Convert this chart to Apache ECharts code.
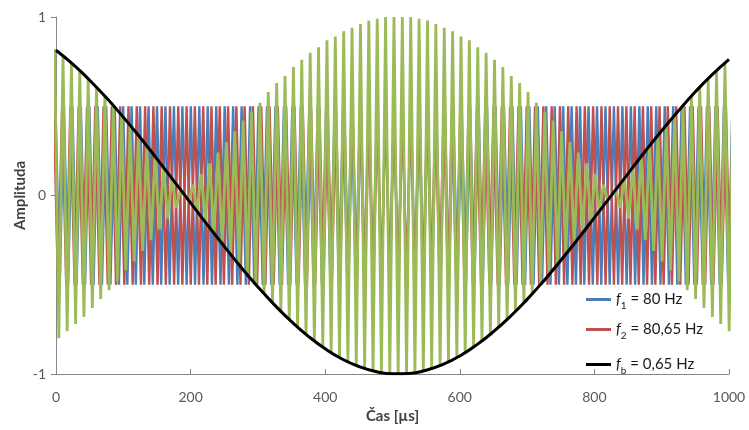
<!DOCTYPE html>
<html>
<head>
<meta charset="utf-8">
<script src="https://cdn.jsdelivr.net/npm/echarts@6/dist/echarts.min.js"></script>
<style>
    html, body { margin: 0; padding: 0; background: #fff; }
    #main { width: 749px; height: 430px; }
</style>
</head>
<body>
<div id="main"></div>
<script>
// turning points [t (µs), amplitude]
var blueTurns = [[-0.8,.5],[5.5,-.5],[11.7,.5],[18.0,-.5],[24.3,.5],[30.6,-.5],[36.9,.5],[43.2,-.5],[49.5,.5],[55.8,-.5],
    [62.0,.5],[68.3,-.5],[74.6,.5],[80.9,-.5],[87.2,.5],[93.5,-.5],[99.8,.5],[106.0,-.5],[112.3,.5],[118.6,-.5],
    [124.9,.5],[131.2,-.5],[137.5,.5],[143.8,-.5],[150.1,.5],[156.3,-.5],[162.6,.5],[168.9,-.5],[175.2,.5],[181.5,-.5],
    [187.8,.5],[194.1,-.5],[200.3,.5],[206.6,-.5],[212.9,.5],[219.2,-.5],[225.5,.5],[231.8,-.5],[238.1,.5],[244.4,-.5],
    [250.6,.5],[256.9,-.5],[263.2,.5],[269.5,-.5],[275.8,.5],[282.1,-.5],[288.4,.5],[294.7,-.5],[300.9,.5],[307.2,-.5],
    [313.5,.5],[319.8,-.5],[326.1,.5],[332.4,-.5],[338.7,.5],[344.9,-.5],[351.2,.5],[357.5,-.5],[363.8,.5],[370.1,-.5],
    [376.4,.5],[382.7,-.5],[389.0,.5],[395.2,-.5],[401.5,.5],[407.8,-.5],[414.1,.5],[420.4,-.5],[426.7,.5],[433.0,-.5],
    [439.2,.5],[445.5,-.5],[451.8,.5],[458.1,-.5],[464.4,.5],[470.7,-.5],[477.0,.5],[483.3,-.5],[489.5,.5],[495.8,-.5],
    [502.1,.5],[508.4,-.5],[514.7,.5],[521.0,-.5],[527.3,.5],[533.5,-.5],[539.8,.5],[546.1,-.5],[552.4,.5],[558.7,-.5],
    [565.0,.5],[571.3,-.5],[577.6,.5],[583.8,-.5],[590.1,.5],[596.4,-.5],[602.7,.5],[609.0,-.5],[615.3,.5],[621.6,-.5],
    [627.9,.5],[634.1,-.5],[640.4,.5],[646.7,-.5],[653.0,.5],[659.3,-.5],[665.6,.5],[671.9,-.5],[678.1,.5],[684.4,-.5],
    [690.7,.5],[697.0,-.5],[703.3,.5],[709.6,-.5],[715.9,.5],[722.2,-.5],[728.4,.5],[734.7,-.5],[741.0,.5],[747.3,-.5],
    [753.6,.5],[759.9,-.5],[766.2,.5],[772.5,-.5],[778.7,.5],[785.0,-.5],[791.3,.5],[797.6,-.5],[803.9,.5],[810.2,-.5],
    [816.5,.5],[822.7,-.5],[829.0,.5],[835.3,-.5],[841.6,.5],[847.9,-.5],[854.2,.5],[860.5,-.5],[866.8,.5],[873.0,-.5],
    [879.3,.5],[885.6,-.5],[891.9,.5],[898.2,-.5],[904.5,.5],[910.8,-.5],[917.0,.5],[923.3,-.5],[929.6,.5],[935.9,-.5],
    [942.2,.5],[948.5,-.5],[954.8,.5],[961.1,-.5],[967.3,.5],[973.6,-.5],[979.9,.5],[986.2,-.5],[992.5,.5],[998.8,-.5],
    [1005.1,.5]];

var redTurns = [[-3.3,.5],[2.9,-.5],[9.1,.5],[15.2,-.5],[21.4,.5],[27.6,-.5],[33.7,.5],[39.9,-.5],[46.1,.5],[52.2,-.5],
    [58.4,.5],[64.6,-.5],[70.7,.5],[76.9,-.5],[83.0,.5],[89.2,-.5],[95.4,.5],[101.5,-.5],[107.7,.5],[113.9,-.5],
    [120.0,.5],[126.2,-.5],[132.4,.5],[138.5,-.5],[144.7,.5],[150.9,-.5],[157.0,.5],[163.2,-.5],[169.4,.5],[175.5,-.5],
    [181.7,.5],[187.8,-.5],[194.0,.5],[200.2,-.5],[206.3,.5],[212.5,-.5],[218.7,.5],[224.8,-.5],[231.0,.5],[237.2,-.5],
    [243.3,.5],[249.5,-.5],[255.7,.5],[261.8,-.5],[268.0,.5],[274.1,-.5],[280.3,.5],[286.5,-.5],[292.6,.5],[298.8,-.5],
    [305.0,.5],[311.1,-.5],[317.3,.5],[323.5,-.5],[329.6,.5],[335.8,-.5],[342.0,.5],[348.1,-.5],[354.3,.5],[360.5,-.5],
    [366.6,.5],[372.8,-.5],[378.9,.5],[385.1,-.5],[391.3,.5],[397.4,-.5],[403.6,.5],[409.8,-.5],[415.9,.5],[422.1,-.5],
    [428.3,.5],[434.4,-.5],[440.6,.5],[446.8,-.5],[452.9,.5],[459.1,-.5],[465.2,.5],[471.4,-.5],[477.6,.5],[483.7,-.5],
    [489.9,.5],[496.1,-.5],[502.2,.5],[508.4,-.5],[514.6,.5],[520.7,-.5],[526.9,.5],[533.1,-.5],[539.2,.5],[545.4,-.5],
    [551.6,.5],[557.7,-.5],[563.9,.5],[570.1,-.5],[576.2,.5],[582.4,-.5],[588.5,.5],[594.7,-.5],[600.9,.5],[607.0,-.5],
    [613.2,.5],[619.4,-.5],[625.5,.5],[631.7,-.5],[637.9,.5],[644.0,-.5],[650.2,.5],[656.3,-.5],[662.5,.5],[668.7,-.5],
    [674.8,.5],[681.0,-.5],[687.2,.5],[693.3,-.5],[699.5,.5],[705.7,-.5],[711.8,.5],[718.0,-.5],[724.2,.5],[730.3,-.5],
    [736.5,.5],[742.7,-.5],[748.8,.5],[755.0,-.5],[761.1,.5],[767.3,-.5],[773.5,.5],[779.6,-.5],[785.8,.5],[792.0,-.5],
    [798.1,.5],[804.3,-.5],[810.5,.5],[816.6,-.5],[822.8,.5],[829.0,-.5],[835.1,.5],[841.3,-.5],[847.5,.5],[853.6,-.5],
    [859.8,.5],[865.9,-.5],[872.1,.5],[878.3,-.5],[884.4,.5],[890.6,-.5],[896.8,.5],[902.9,-.5],[909.1,.5],[915.3,-.5],
    [921.4,.5],[927.6,-.5],[933.8,.5],[939.9,-.5],[946.1,.5],[952.2,-.5],[958.4,.5],[964.6,-.5],[970.7,.5],[976.9,-.5],
    [983.1,.5],[989.2,-.5],[995.4,.5],[1001.6,-.5]];

var sumTurns = [[-2.1,.82],[4.2,-.80],[10.4,.78],[16.6,-.76],[22.9,.74],[29.1,-.72],[35.3,.70],[41.5,-.68],[47.8,.65],[54.0,-.63],
    [60.2,.61],[66.4,-.58],[72.7,.56],[78.9,-.53],[85.1,.50],[91.3,-.48],[97.6,.45],[103.8,-.42],[110.0,.39],[116.2,-.37],
    [122.5,.34],[128.7,-.31],[134.9,.28],[141.1,-.25],[147.4,.22],[153.6,-.19],[159.8,.16],[166.0,-.13],[172.3,.10],[178.5,-.07],
    [184.7,.03],[190.9,0],[197.2,-.03],[203.4,.06],[209.6,-.09],[215.8,.12],[222.1,-.15],[228.3,.18],[234.5,-.21],[240.7,.24],
    [247.0,-.27],[253.2,.30],[259.4,-.33],[265.6,.36],[271.9,-.39],[278.1,.42],[284.3,-.44],[290.5,.47],[296.8,-.50],[303.0,.52],
    [309.2,-.55],[315.4,.58],[321.7,-.60],[327.9,.63],[334.1,-.65],[340.3,.67],[346.6,-.70],[352.8,.72],[359.0,-.74],[365.2,.76],
    [371.5,-.78],[377.7,.80],[383.9,-.82],[390.1,.83],[396.4,-.85],[402.6,.87],[408.8,-.88],[415.0,.89],[421.3,-.91],[427.5,.92],
    [433.7,-.93],[439.9,.94],[446.2,-.95],[452.4,.96],[458.6,-.97],[464.8,.98],[471.1,-.98],[477.3,.99],[483.5,-.99],[489.7,1],
    [496.0,-1],[502.2,1],[508.4,-1],[514.6,1],[520.9,-1],[527.1,1],[533.3,-.99],[539.5,.99],[545.8,-.98],[552.0,.98],
    [558.2,-.97],[564.4,.96],[570.7,-.95],[576.9,.94],[583.1,-.93],[589.3,.92],[595.6,-.91],[601.8,.89],[608.0,-.88],[614.2,.87],
    [620.5,-.85],[626.7,.83],[632.9,-.82],[639.1,.80],[645.4,-.78],[651.6,.76],[657.8,-.74],[664.0,.72],[670.3,-.70],[676.5,.67],
    [682.7,-.65],[688.9,.63],[695.2,-.60],[701.4,.58],[707.6,-.55],[713.8,.52],[720.1,-.50],[726.3,.47],[732.5,-.44],[738.7,.42],
    [745.0,-.39],[751.2,.36],[757.4,-.33],[763.6,.30],[769.9,-.27],[776.1,.24],[782.3,-.21],[788.5,.18],[794.8,-.15],[801.0,.12],
    [807.2,-.09],[813.4,.06],[819.7,-.03],[825.9,0],[832.1,.03],[838.3,-.07],[844.6,.10],[850.8,-.13],[857.0,.16],[863.2,-.19],
    [869.5,.22],[875.7,-.25],[881.9,.28],[888.1,-.31],[894.4,.34],[900.6,-.37],[906.8,.39],[913.0,-.42],[919.3,.45],[925.5,-.48],
    [931.7,.50],[937.9,-.53],[944.2,.56],[950.4,-.58],[956.6,.61],[962.8,-.63],[969.1,.65],[975.3,-.68],[981.5,.70],[987.7,-.72],
    [994.0,.74],[1000.2,-.76],[1006.4,.78]];

// beat curve, one reading every 25 µs
var beatT = [0,25,50,75,100,125,150,175,200,225,250,275,300,325,350,375,400,425,450,475,500,
    525,550,575,600,625,650,675,700,725,750,775,800,825,850,875,900,925,950,975,1000];
var beatY = [0.814,0.736,0.646,0.547,0.439,0.325,0.205,0.082,-0.041,-0.165,-0.285,-0.402,-0.512,-0.614,-0.707,-0.789,-0.859,-0.916,-0.958,-0.986,-0.999,
    -0.997,-0.979,-0.946,-0.899,-0.837,-0.763,-0.678,-0.582,-0.477,-0.364,-0.246,-0.124,-0.001,0.123,0.245,0.363,0.475,0.581,0.677,0.763];

var legendNames = ['f1', 'f2', 'fb'];
var legendSubs = ['1', '2', 'b'];
var legendValues = ['80 Hz', '80,65 Hz', '0,65 Hz'];
var legendTops = [287, 317, 352];

var beatData = beatT.map(function (t, i) { return [t, beatY[i]]; });

var lineSeries = function (name, data, color, width, smooth) {
    return {
        name: name,
        type: 'line',
        data: data,
        showSymbol: false,
        smooth: smooth,
        clip: true,
        lineStyle: { color: color, width: width },
        itemStyle: { color: color },
        emphasis: { disabled: true }
    };
};

var myChart = echarts.init(document.getElementById('main'));
myChart.setOption({
    backgroundColor: '#fff',
    animation: false,
    textStyle: { fontFamily: 'Lato' },
    grid: { left: 56, right: 20, top: 17, bottom: 56 },
    legend: legendNames.map(function (n, i) {
        return {
            data: [n],
            orient: 'vertical',
            left: 581,
            top: legendTops[i],
            icon: 'rect',
            itemWidth: 25,
            itemHeight: 3,
            selectedMode: false,
            formatter: function () {
                return '{f|f}{s|' + legendSubs[i] + '}{t| = ' + legendValues[i] + '}';
            },
            textStyle: {
                rich: {
                    f: { fontFamily: 'Lato', fontStyle: 'italic', fontSize: 15, color: '#1a1a1a', lineHeight: 22, verticalAlign: 'middle' },
                    s: { fontFamily: 'Lato', fontSize: 10, color: '#1a1a1a', lineHeight: 12, verticalAlign: 'bottom' },
                    t: { fontFamily: 'Lato', fontSize: 15, color: '#1a1a1a', lineHeight: 22, verticalAlign: 'middle' }
                }
            }
        };
    }),
    xAxis: {
        type: 'value',
        min: 0,
        max: 1000,
        interval: 200,
        name: 'Čas [µs]',
        nameLocation: 'middle',
        nameGap: 33,
        nameTextStyle: { fontFamily: 'Lato', fontWeight: 'bold', fontSize: 15, color: '#404040' },
        axisLine: { onZero: false, lineStyle: { color: '#868686', width: 1 } },
        axisTick: { show: true, inside: true, length: 5, lineStyle: { color: '#868686' } },
        axisLabel: {
            fontFamily: 'Lato', fontSize: 14, color: '#595959', margin: 16,
            formatter: function (v) { return String(v); }
        },
        splitLine: { show: false }
    },
    yAxis: {
        type: 'value',
        min: -1,
        max: 1,
        interval: 1,
        name: 'Amplituda',
        nameLocation: 'middle',
        nameRotate: 90,
        nameGap: 28,
        nameMoveOverlap: false,
        nameTextStyle: { fontFamily: 'Lato', fontWeight: 'bold', fontSize: 15, color: '#404040' },
        axisLine: { show: true, lineStyle: { color: '#868686', width: 1 } },
        axisTick: { show: true, inside: false, length: 5, lineStyle: { color: '#868686' } },
        axisLabel: { fontFamily: 'Lato', fontSize: 14, color: '#595959', margin: 10 },
        splitLine: { show: false }
    },
    series: [
        lineSeries('f1', blueTurns, '#4a7ebb', 2.4, false),
        lineSeries('f2', redTurns, '#c0504d', 2.4, false),
        lineSeries('sum', sumTurns, '#9bbb59', 2.8, false),
        lineSeries('fb', beatData, '#000000', 3, true)
    ]
});
</script>
</body>
</html>
